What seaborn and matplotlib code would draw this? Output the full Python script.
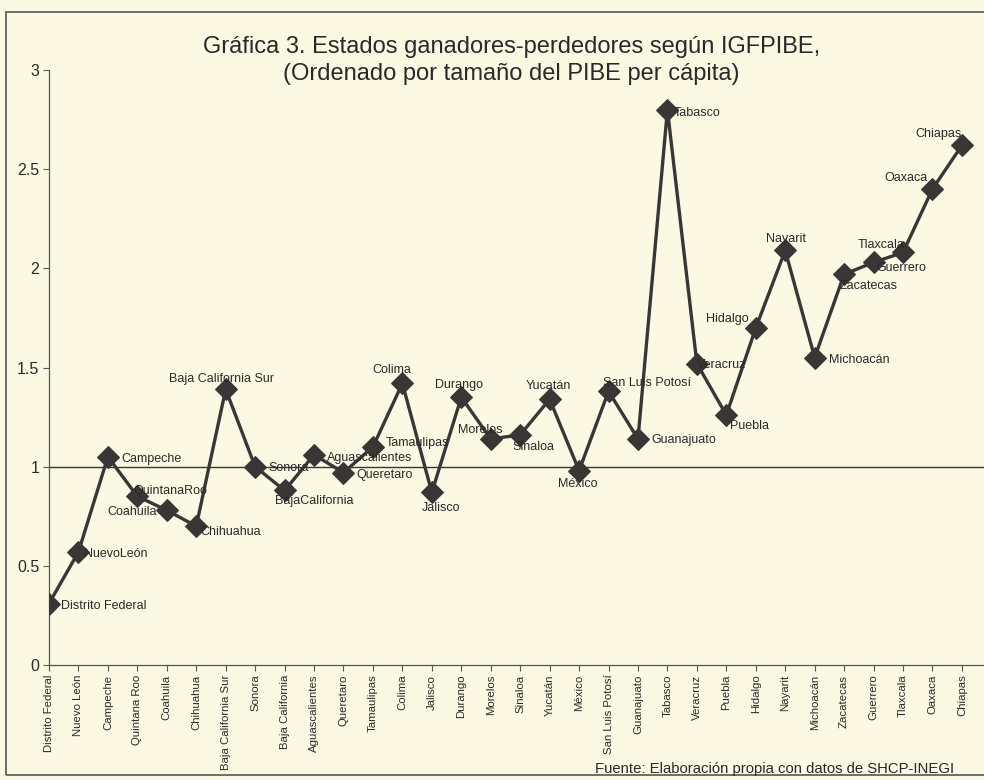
import matplotlib
matplotlib.use("Agg")
import numpy as np
import pandas as pd
import seaborn as sns
import matplotlib.pyplot as plt
from matplotlib.patches import Rectangle

estados = ["Distrito Federal", "Nuevo León", "Campeche", "Quintana Roo", "Coahuila",
           "Chihuahua", "Baja California Sur", "Sonora", "Baja California", "Aguascalientes",
           "Queretaro", "Tamaulipas", "Colima", "Jalisco", "Durango", "Morelos", "Sinaloa",
           "Yucatán", "México", "San Luis Potosí", "Guanajuato", "Tabasco", "Veracruz",
           "Puebla", "Hidalgo", "Nayarit", "Michoacán", "Zacatecas", "Guerrero", "Tlaxcala",
           "Oaxaca", "Chiapas"]
igfpibe = [0.31, 0.57, 1.05, 0.85, 0.78, 0.70, 1.39, 1.00, 0.88, 1.06,
           0.97, 1.10, 1.42, 0.87, 1.35, 1.14, 1.16, 1.34, 0.98, 1.38,
           1.14, 2.80, 1.52, 1.26, 1.70, 2.09, 1.55, 1.97, 2.03, 2.08,
           2.40, 2.62]
# point labels as printed on the chart (some run together)
etiquetas = ["Distrito Federal", "NuevoLeón", "Campeche", "QuintanaRoo", "Coahuila",
             "Chihuahua", "Baja California Sur", "Sonora", "BajaCalifornia", "Aguascalientes",
             "Queretaro", "Tamaulipas", "Colima", "Jalisco", "Durango", "Morelos", "Sinaloa",
             "Yucatán", "México", "San Luis Potosí", "Guanajuato", "Tabasco", "Veracruz",
             "Puebla", "Hidalgo", "Nayarit", "Michoacán", "Zacatecas", "Guerrero", "Tlaxcala",
             "Oaxaca", "Chiapas"]

# label offsets in pixels (dx, dy) and alignment
offsets = [(12, -2, "left"), (6, -2, "left"), (13, -2, "left"), (-4, 5, "left"),
           (-10, -2, "right"), (4, -6, "left"), (-4, 10, "center"), (13, -1, "left"),
           (-10, -11, "left"), (13, -3, "left"), (13, -2, "left"), (13, 4, "left"),
           (-11, 13, "center"), (9, -16, "center"), (-2, 12, "center"), (-10, 9, "center"),
           (13, -12, "center"), (-1, 13, "center"), (-1, -13, "center"), (-6, 8, "left"),
           (13, -1, "left"), (6, -3, "left"), (0, -1, "left"), (4, -11, "left"),
           (-7, 9, "right"), (1, 11, "center"), (14, -2, "left"), (-4, -12, "left"),
           (3, -6, "left"), (2, 7, "right"), (-5, 11, "right"), (0, 11, "right")]

df = pd.DataFrame({"estado": estados, "valor": igfpibe})

bg = "#fbf8e4"
ink = "#3b3636"
txt = "#2b2828"
fam = ["Liberation Sans", "DejaVu Sans"]

sns.set_theme(style="white")
plt.rcParams["font.family"] = fam

fig = plt.figure(figsize=(9.84, 7.80), dpi=100, facecolor=bg)
ax = fig.add_axes([49 / 984, 1 - 665 / 780, 1 - 49 / 984, (665 - 70) / 780])
ax.set_facecolor(bg)

ax.axhline(1, color=ink, lw=1.0, zorder=1)
sns.lineplot(data=df, x="estado", y="valor", sort=False, ax=ax, color=ink, lw=2.4,
             marker="D", markersize=11, markeredgecolor=ink, markerfacecolor=ink, zorder=3)

for i, (lab, v) in enumerate(zip(etiquetas, igfpibe)):
    dx, dy, ha = offsets[i]
    ax.annotate(lab, (i, v), xytext=(dx, dy), textcoords="offset pixels",
                ha=ha, va="center", fontsize=9, color=txt, zorder=4)

ax.set_xlim(0, 31.75)
ax.set_ylim(0, 3)
ax.set_yticks([0, 0.5, 1, 1.5, 2, 2.5, 3])
ax.set_yticklabels(["0", "0.5", "1", "1.5", "2", "2.5", "3"], fontsize=11.5, color=txt)
ax.set_xticks(range(len(estados)))
ax.set_xticklabels(estados, rotation=90, fontsize=8.2, color=txt)
ax.tick_params(axis="both", which="both", length=4, width=0.8, color="#555", direction="out",
               left=True, bottom=True, pad=3)
ax.set_xlabel("")
ax.set_ylabel("")
for s in ["top", "right"]:
    ax.spines[s].set_visible(False)
for s in ["left", "bottom"]:
    ax.spines[s].set_color("#555")
    ax.spines[s].set_linewidth(0.9)

fig.text(0.52, 1 - 47 / 780, "Gráfica 3. Estados ganadores-perdedores según IGFPIBE,",
         ha="center", va="center", fontsize=17, color=txt)
fig.text(0.52, 1 - 74 / 780, "(Ordenado por tamaño del PIBE per cápita)",
         ha="center", va="center", fontsize=17, color=txt)
fig.text(0.605, 1 - 769 / 780, "Fuente: Elaboración propia con datos de SHCP-INEGI",
         ha="left", va="center", fontsize=10.7, color=txt)

fig.add_artist(Rectangle((6 / 984, 5 / 780), 1.2, 1 - 17 / 780, transform=fig.transFigure,
                         fill=False, edgecolor="#555", lw=1.2))

fig.savefig("out.png", dpi=100, facecolor=bg)
